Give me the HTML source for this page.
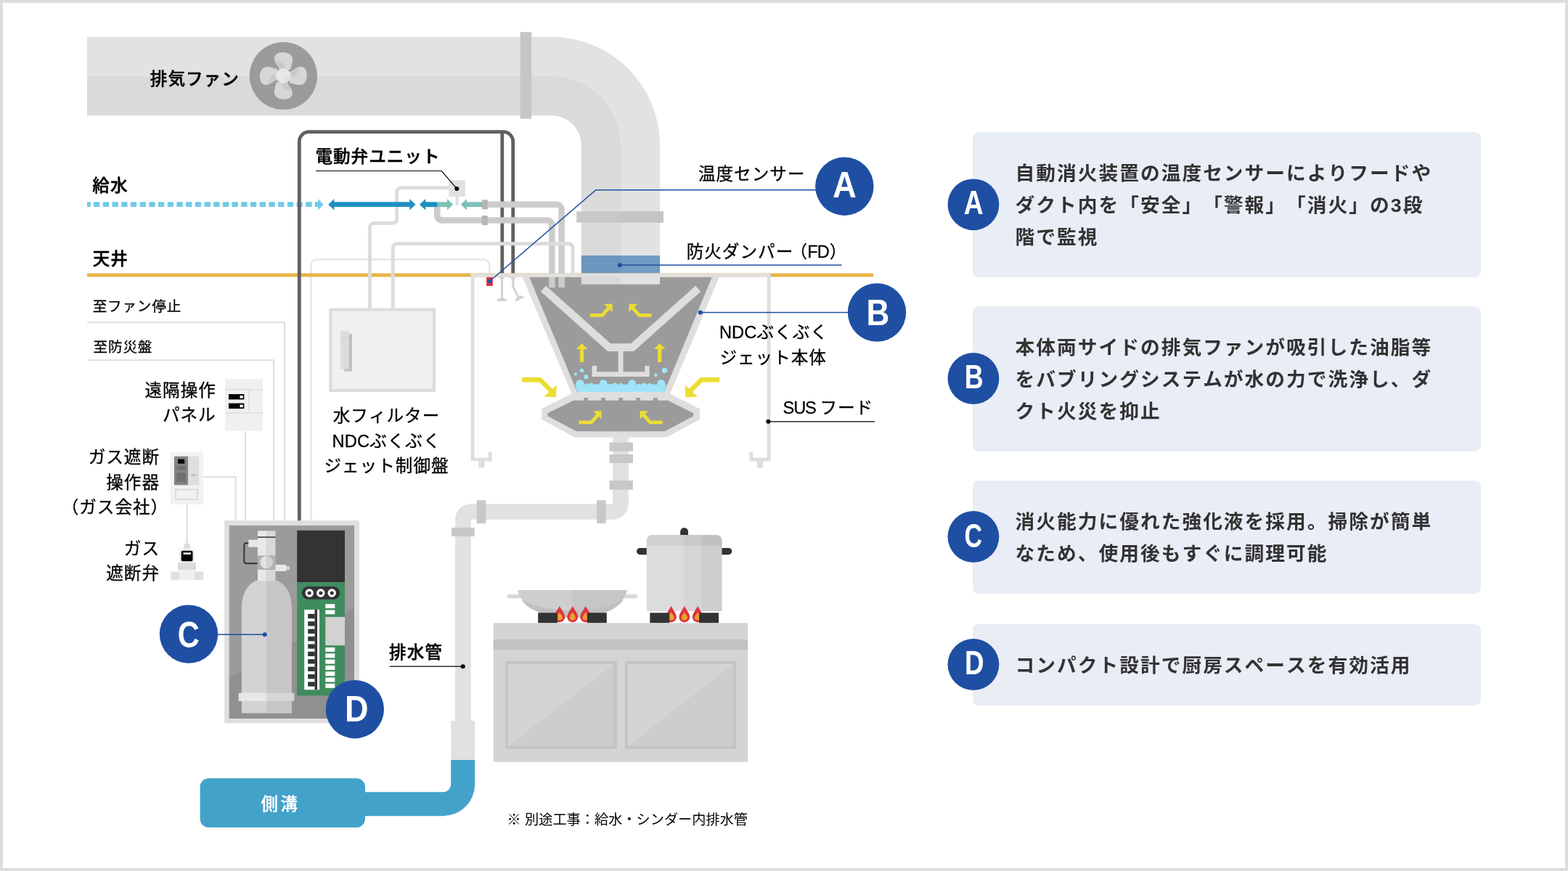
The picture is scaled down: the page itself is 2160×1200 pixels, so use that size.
<!DOCTYPE html>
<html lang="ja">
<head>
<meta charset="utf-8">
<title>NDCぶくぶくジェット システム構成図</title>
<style>
html,body{margin:0;padding:0;background:#fff;}
body{width:2160px;height:1200px;overflow:hidden;position:relative;}
svg{position:absolute;left:0;top:0;display:block;will-change:transform;}
svg text{font-family:"Liberation Sans","Noto Sans CJK JP",sans-serif;text-spacing-trim:space-all;font-kerning:none;}
.lb{font-size:23.6px;fill:#000;stroke:#000;stroke-width:0.3px;letter-spacing:1px;}
.lm{font-size:23.6px;fill:#000;font-weight:500;stroke:#000;stroke-width:0.45px;letter-spacing:1px;}
.ls{font-size:19.6px;fill:#000;stroke:#000;stroke-width:0.25px;letter-spacing:0.8px;}
.ct{font-size:26.7px;font-weight:700;fill:#333;letter-spacing:2.05px;}
.cl{font-weight:700;fill:#fff;text-anchor:middle;}
</style>
</head>
<body>
<svg width="2160" height="1200" viewBox="0 0 2160 1200">
<rect x="0" y="0" width="2160" height="1200" fill="#dddddd"/>
<rect x="4" y="4" width="2152" height="1192" fill="#ffffff"/>

<!-- ===== DUCT ===== -->
<g id="duct">
<path d="M120,50.8 H760 A149,149 0 0 1 909,200 V391.7 H855 V200 A95,95 0 0 0 760,105 H120 Z" fill="#e2e2e2"/>
<path d="M120,105 H760 A95,95 0 0 1 855,200 V391.7 H800.8 V200 A40.8,40.8 0 0 0 760,159.2 H120 Z" fill="#dadada"/>
<rect x="716.7" y="44.2" width="15.5" height="119.5" fill="#c6c6c6"/>
<rect x="794.2" y="291.3" width="119.6" height="15.4" fill="#c8c8c8"/>
<rect x="855" y="291.3" width="58.8" height="15.4" fill="#c5c5c5"/>
<rect x="800.8" y="352" width="54.2" height="24.5" fill="#6b96be"/>
<rect x="855" y="352" width="54" height="24.5" fill="#709bc3"/>
</g>

<!-- ===== FAN ===== -->
<g id="fan" transform="translate(390.4,104.5)">
<circle r="46.6" fill="#9b9b9b"/>
<g id="blade">
<path d="M-5.5,-8.7 C-6,-13 -12.4,-17 -12.4,-24.3 C-12.4,-29.5 -7,-32.5 -0.9,-32.5 C7,-32.5 12.6,-28.5 12.6,-22.5 C12.6,-17 10.6,-13 9.4,-8.4 Z" fill="#d6d6d6"/>
<path d="M-5.5,-8.7 C-6,-13 -9,-16 -11,-20 C-5,-21.5 2,-17 3,-9.5 Z" fill="#c9c9c9"/>
</g>
<g transform="rotate(90)"><path d="M-5.5,-8.7 C-6,-13 -12.4,-17 -12.4,-24.3 C-12.4,-29.5 -7,-32.5 -0.9,-32.5 C7,-32.5 12.6,-28.5 12.6,-22.5 C12.6,-17 10.6,-13 9.4,-8.4 Z" fill="#d6d6d6"/><path d="M-5.5,-8.7 C-6,-13 -9,-16 -11,-20 C-5,-21.5 2,-17 3,-9.5 Z" fill="#c9c9c9"/></g>
<g transform="rotate(180)"><path d="M-5.5,-8.7 C-6,-13 -12.4,-17 -12.4,-24.3 C-12.4,-29.5 -7,-32.5 -0.9,-32.5 C7,-32.5 12.6,-28.5 12.6,-22.5 C12.6,-17 10.6,-13 9.4,-8.4 Z" fill="#d6d6d6"/><path d="M-5.5,-8.7 C-6,-13 -9,-16 -11,-20 C-5,-21.5 2,-17 3,-9.5 Z" fill="#c9c9c9"/></g>
<g transform="rotate(270)"><path d="M-5.5,-8.7 C-6,-13 -12.4,-17 -12.4,-24.3 C-12.4,-29.5 -7,-32.5 -0.9,-32.5 C7,-32.5 12.6,-28.5 12.6,-22.5 C12.6,-17 10.6,-13 9.4,-8.4 Z" fill="#d6d6d6"/><path d="M-5.5,-8.7 C-6,-13 -9,-16 -11,-20 C-5,-21.5 2,-17 3,-9.5 Z" fill="#c9c9c9"/></g>
<circle r="10.4" fill="#e7e7e7"/>
<path d="M0,0 H10.4 A10.4,10.4 0 0 1 0,10.4 Z" fill="#e0e0e0"/>
</g>

<!-- ===== CEILING / SUPPLY ===== -->
<g id="ceiling">
<path d="M428.3,718 V365.5 a8,8 0 0 1 8,-8 H666.2 a8,8 0 0 1 8,8 V378" fill="none" stroke="#e6e6e6" stroke-width="2.6"/>
<rect x="120" y="376.5" width="1083" height="5" fill="#e8b349"/>
<line x1="120" y1="281.7" x2="438.5" y2="281.7" stroke="#6ecbe8" stroke-width="6.8" stroke-dasharray="8.3 4.4" stroke-dashoffset="3.6"/>
<path d="M438.1,274 L445.6,281.7 L438.1,289.4 Z" fill="#6ecbe8"/>
<path d="M412.3,718 V195 a13.3,13.3 0 0 1 13.3,-13.3 H693.4 a13.3,13.3 0 0 1 13.3,13.3 V376.5" fill="none" stroke="#606060" stroke-width="4.8"/>
<line x1="691.8" y1="182" x2="691.8" y2="376.5" stroke="#606060" stroke-width="4.8"/>
</g>

<!-- ===== HOOD BODY ===== -->
<g id="hood">
<rect x="648.7" y="378" width="4.8" height="257" fill="#dedede"/>
<rect x="648.7" y="630.6" width="28.8" height="4.7" fill="#dedede"/>
<rect x="672.8" y="622.4" width="4.7" height="12.9" fill="#dedede"/>
<rect x="659.2" y="635" width="8.3" height="9.3" fill="#dedede"/>
<rect x="1056.7" y="378" width="4.8" height="257" fill="#dedede"/>
<rect x="1032.5" y="630.6" width="29" height="4.7" fill="#dedede"/>
<rect x="1032.5" y="622.4" width="4.8" height="12.9" fill="#dedede"/>
<rect x="1042.8" y="635" width="8.4" height="9.5" fill="#dedede"/>
<path d="M719.7,381.7 L787.5,542.5 L746.3,563.3 V578 L791.7,602.5 H918.3 L963.8,578 V563.3 L923,542.5 L990.8,381.7 Z" fill="#dedede"/>
<path d="M729.2,381.7 H980.8 L915,540 H795 Z" fill="#9b9b9b"/>
<path d="M790,551.7 H920 L955.3,569.2 V573.3 L915.8,594.2 H794.2 L754.5,573.3 V569.2 Z" fill="#9b9b9b"/>
<g fill="#9b9b9b">
<rect x="804.2" y="548" width="5.8" height="4"/><rect x="828" y="548" width="5.8" height="4"/><rect x="852.2" y="548" width="5.8" height="4"/><rect x="876.2" y="548" width="5.8" height="4"/><rect x="900" y="548" width="5.8" height="4"/>
</g>
<rect x="800.8" y="381" width="54.2" height="10.7" fill="#dadada"/>
<rect x="855" y="381" width="54" height="10.7" fill="#e2e2e2"/>
</g>
<!-- ===== PIPES ===== -->
<g id="pipes" fill="none">
<path d="M602.3,281.7 V297 a6.5,6.5 0 0 0 6.5,6.5 H753.4 a7,7 0 0 1 7,7 V396.3" stroke="#cccccc" stroke-width="8.6"/>
<path d="M664,281.7 H766.6 a7,7 0 0 1 7,7 V396.3" stroke="#cccccc" stroke-width="8.6"/>
<rect x="663.8" y="275.2" width="8" height="13.2" fill="#b5b5b5"/>
<rect x="663.8" y="297" width="8" height="13.2" fill="#b5b5b5"/>
<path d="M619,258.7 H552.7 a6,6 0 0 0 -6,6 V301.5 a6,6 0 0 1 -6,6 H515.4 a6,6 0 0 0 -6,6 V426" stroke="#dcdcdc" stroke-width="5"/>
<path d="M541.2,426 V341.8 a6,6 0 0 1 6,-6 H783.2 a6,6 0 0 1 6,6 V378" stroke="#dcdcdc" stroke-width="5"/>
<rect x="648.7" y="376.7" width="412.8" height="5" fill="#e0e0e0"/>
<rect x="618.3" y="248.3" width="22.5" height="22.5" fill="#e0e0e0"/>
<rect x="627.5" y="270" width="4.2" height="13" fill="#e0e0e0"/>
</g>
<g id="arrows">
<line x1="459" y1="281.7" x2="566" y2="281.7" stroke="#1e8fc0" stroke-width="6.8"/>
<path d="M452.2,281.7 L460.4,274 V289.4 Z M572.5,281.7 L564.3,274 V289.4 Z" fill="#1e8fc0"/>
<line x1="585" y1="281.7" x2="602.3" y2="281.7" stroke="#1e8fc0" stroke-width="6.8"/>
<path d="M578,281.7 L586.2,274 V289.4 Z" fill="#1e8fc0"/>
<line x1="602.3" y1="281.7" x2="617" y2="281.7" stroke="#7dc0b6" stroke-width="6.8"/>
<path d="M624.2,281.7 L616,274 V289.4 Z" fill="#7dc0b6"/>
<line x1="642" y1="281.7" x2="664" y2="281.7" stroke="#7dc0b6" stroke-width="6.8"/>
<path d="M634.7,281.7 L642.9,274 V289.4 Z" fill="#7dc0b6"/>
</g>

<!-- ===== HOOD INTERIOR ===== -->
<g id="hoodin">
<polyline points="748.5,397.8 839.2,478.6 871,478.6 961.7,397.8" fill="none" stroke="#dedede" stroke-width="10.6" stroke-linejoin="miter"/>
<rect x="851.7" y="483" width="6.8" height="30" fill="#dedede"/>
<path d="M815.5,504 V518.9 H894.7 V504 H888.2 V512.3 H822 V504 Z" fill="#dedede"/>
<polyline points="812.6,434.45 829.6,434.45 840.2,422.4" fill="none" stroke="#ecdd33" stroke-width="4.7"/><polygon points="832.1,418.9 843.6,418.4 843.9,430" fill="#ecdd33"/>
<polyline points="897.6,434.45 880.6,434.45 870.0,422.4" fill="none" stroke="#ecdd33" stroke-width="4.7"/><polygon points="878.1,418.9 866.6,418.4 866.3,430" fill="#ecdd33"/>
<polyline points="797.5,581.95 814.5,581.95 825.1,569.9" fill="none" stroke="#ecdd33" stroke-width="4.7"/><polygon points="817.0,566.4 828.5,565.9 828.8,577.5" fill="#ecdd33"/>
<polyline points="912.7,581.95 895.7,581.95 885.1,569.9" fill="none" stroke="#ecdd33" stroke-width="4.7"/><polygon points="893.2,566.4 881.7,565.9 881.4,577.5" fill="#ecdd33"/>
<polyline points="719,523.3 744,523.3 760.5,539.8" fill="none" stroke="#ecdd33" stroke-width="6.4"/><polygon points="766.6,530.6 765.9,547.4 749.4,546.4" fill="#ecdd33"/>
<polyline points="991.2,523.3 966.2,523.3 949.7,539.8" fill="none" stroke="#ecdd33" stroke-width="6.4"/><polygon points="943.6,530.6 944.3,547.4 960.8,546.4" fill="#ecdd33"/>
<path d="M801.5,472.9 L809.4,481.1 H804.1 V498.9 H798.9 V481.1 H793.6 Z" fill="#ecdd33"/>
<path d="M908.7,472.9 L916.6,481.1 H911.3000000000001 V498.9 H906.1 V481.1 H900.8000000000001 Z" fill="#ecdd33"/>
<g fill="#9fe4f9">
<path d="M792.2,529.8 H918 L915,540 H795.2 Z"/>
<circle cx="799" cy="528.4" r="5.5"/>
<circle cx="831.1" cy="528.4" r="5.5"/>
<circle cx="870.8" cy="528.4" r="5.5"/>
<circle cx="910.8" cy="528.4" r="5.5"/>
<circle cx="808.5" cy="531.5" r="3"/>
<circle cx="814.5" cy="531" r="3.6"/>
<circle cx="822.5" cy="531.5" r="2.6"/>
<circle cx="840.5" cy="531.5" r="2.8"/>
<circle cx="847" cy="531" r="3.6"/>
<circle cx="855" cy="531.2" r="3.2"/>
<circle cx="861.5" cy="531.8" r="2.4"/>
<circle cx="880.5" cy="531.5" r="2.8"/>
<circle cx="887" cy="531" r="3.6"/>
<circle cx="895" cy="531.2" r="3.2"/>
<circle cx="902" cy="531.8" r="2.6"/>
<circle cx="801.4" cy="510.4" r="2.7"/>
<circle cx="792.9" cy="515.4" r="2.2"/>
<circle cx="807.3" cy="519.2" r="3.1"/>
<circle cx="915.5" cy="510.3" r="3.8"/>
<circle cx="903.3" cy="516.7" r="2.3"/>
</g>
<rect x="670.1" y="381.9" width="8.7" height="12.1" fill="#d93340"/>
<g fill="#d2d2d2">
<path d="M686.7,381.7 H695.8 C693.6,383 692.9,384.5 692.9,386.5 V410.2 C695.5,410.6 698,412.5 698.5,415 H684.4 C684.9,412.5 687.4,410.6 690,410.2 V386.5 C690,384.5 689,383 686.7,381.7 Z"/>
<path d="M701.3,381.7 H711.7 C709.3,383 708.3,384.5 708.3,386.5 V394.5 L714.8,407.8 C717.5,407 720.5,407.6 722.9,409.4 L710,415.8 C710,413 711,410.5 712.6,409.2 L705.2,395.2 V386.5 C705.2,384.5 703.7,383 701.3,381.7 Z"/>
</g>
</g>

<!-- ===== DRAIN ===== -->
<g id="drain">
<path d="M844.2,600 H865.8 V694.2 A21.6,21.6 0 0 1 844.2,715.8 H648.7 V993.5 H627 V715.8 A21.7,21.7 0 0 1 648.7,694.2 H844.2 Z" fill="#e1e1e1"/>
<g fill="#c8c8c8">
<rect x="839.5" y="609.6" width="32.5" height="12.1"/><rect x="839.5" y="626" width="32.5" height="12"/><rect x="839.5" y="662.1" width="32.5" height="12.6"/>
<rect x="822.2" y="689.2" width="12.3" height="32"/><rect x="656.7" y="689.2" width="12.5" height="32"/>
<rect x="622" y="727" width="31.8" height="11.8"/>
</g>
<rect x="621.2" y="993" width="33" height="54.5" fill="#e1e1e1"/>
<path d="M621.2,1047.1 H654.2 V1080.2 A44,44 0 0 1 610.2,1124.2 H500 V1091.2 H610.2 A11,11 0 0 0 621.2,1080.2 Z" fill="#43a2ca"/>
<rect x="275.6" y="1072.2" width="227.4" height="67.7" rx="12" ry="12" fill="#43a2ca"/>
</g>

<!-- ===== LEFT DEVICES ===== -->
<g id="left">
<g fill="none" stroke="#dddddd" stroke-width="2.1">
<path d="M120,444.2 H392.1 V718"/>
<path d="M121,496.3 H377 V718"/>
<path d="M338,593 V718"/>
<path d="M280,657.2 H324.6 V718"/>
<path d="M257.5,695 V749"/>
</g>
<rect x="455.3" y="426.5" width="142.7" height="111.5" fill="#f0f0f0" stroke="#dcdcdc" stroke-width="4"/>
<rect x="474.2" y="460" width="10.8" height="51.7" fill="#c0c0c0"/>
<rect x="469.2" y="456.2" width="11.6" height="52.1" fill="#dcdcdc"/>
<rect x="469.2" y="464.6" width="11.6" height="1.4" fill="#d0d0d0"/>
<rect x="310" y="522.2" width="52.1" height="71.5" fill="#f0f0f0"/>
<rect x="310" y="536" width="52.1" height="1.4" fill="#dcdcdc"/>
<rect x="310" y="568.1" width="52.1" height="1.4" fill="#dcdcdc"/>
<rect x="342.1" y="537" width="1.4" height="31.5" fill="#dcdcdc"/>
<rect x="315" y="543" width="21.3" height="7.4" fill="#000"/>
<rect x="315" y="555.6" width="21.3" height="7.4" fill="#000"/>
<rect x="330.5" y="544.9" width="4.2" height="3.7" fill="#fff"/>
<rect x="330.5" y="557.5" width="4.2" height="3.7" fill="#fff"/>
<rect x="234.7" y="622.5" width="45.3" height="72.5" fill="#f2f2f2"/>
<rect x="240" y="628.7" width="19.2" height="39.6" fill="#848484"/>
<rect x="259.2" y="628.7" width="15" height="39.6" fill="#dedede"/>
<rect x="245" y="632.5" width="9.2" height="6.2" fill="#000"/>
<rect x="243.3" y="642.2" width="12.5" height="5" fill="#707070"/>
<rect x="243.3" y="651.2" width="12.5" height="13" fill="#707070"/>
<rect x="263.3" y="653" width="6.7" height="2.8" fill="#c2c2c2"/>
<rect x="242" y="674.5" width="30" height="13.5" fill="#f2f2f2" stroke="#dedede" stroke-width="2.4"/>
<path d="M253.3,756 V752.5 a4.3,4.3 0 0 1 8.6,0 V756 Z" fill="#dcdcdc"/>
<rect x="247" y="755.8" width="21" height="19.5" fill="#f0f0f0"/>
<rect x="249.7" y="758.7" width="15.8" height="14.6" rx="2" ry="2" fill="#000"/>
<rect x="252.5" y="761.3" width="10.5" height="2.5" fill="#fff"/>
<rect x="245" y="775.3" width="25" height="9.9" fill="#dcdcdc"/>
<rect x="235" y="787.5" width="45.3" height="11.7" fill="#e0e0e0"/>
<rect x="247" y="785" width="21" height="14.2" fill="#f0f0f0"/>
</g>

<!-- ===== CONTROL BOX ===== -->
<g id="box">
<rect x="309.2" y="717.2" width="185.8" height="279.1" fill="#dedede"/>
<rect x="315.8" y="724" width="172.2" height="266" fill="#9b9b9b"/>
<path d="M315.8,934.2 L488,838 V990 H315.8 Z" fill="#909090"/>
<rect x="409.2" y="730.8" width="65.8" height="72" fill="#333333"/>
<rect x="409.2" y="802" width="65.8" height="156.3" fill="#3f8c5f"/>
<rect x="415.8" y="808" width="52.5" height="17.8" rx="8.9" ry="8.9" fill="#333333"/>
<g fill="none" stroke="#fff" stroke-width="3.2"><circle cx="426.2" cy="817" r="4.15"/><circle cx="441.8" cy="817" r="4.15"/><circle cx="457.2" cy="817" r="4.15"/></g>
<g fill="#fff">
<rect x="448.3" y="832.2" width="13" height="5.8"/><rect x="448.3" y="840.5" width="13" height="5.8"/>
<rect x="448.3" y="892" width="13" height="6"/><rect x="448.3" y="900.3" width="13" height="6"/><rect x="448.3" y="908.6" width="13" height="6"/><rect x="448.3" y="916.9" width="13" height="6"/><rect x="448.3" y="925.2" width="13" height="6"/><rect x="448.3" y="933.5" width="13" height="6"/><rect x="448.3" y="941.8" width="13" height="6"/>
<rect x="419.2" y="839.9" width="20.8" height="110.4"/>
</g>
<rect x="448.3" y="850" width="26.7" height="39.2" fill="#d2d2d2"/>
<rect x="433.5" y="839.9" width="3.5" height="110.4" fill="#333"/>
<g fill="#333">
<rect x="424.2" y="845.8" width="9.5" height="6.3"/><rect x="424.2" y="856.2" width="9.5" height="6.3"/><rect x="424.2" y="866.6" width="9.5" height="6.3"/><rect x="424.2" y="877" width="9.5" height="6.3"/><rect x="424.2" y="887.4" width="9.5" height="6.3"/><rect x="424.2" y="897.8" width="9.5" height="6.3"/><rect x="424.2" y="908.2" width="9.5" height="6.3"/><rect x="424.2" y="918.6" width="9.5" height="6.3"/><rect x="424.2" y="929" width="9.5" height="6.3"/><rect x="424.2" y="939.4" width="9.5" height="6.3"/>
</g>
<!-- cylinder -->
<path d="M332.8,982.5 V838 C332.8,818 340.5,805.5 352.5,800 H382 C394,805.5 401.7,818 401.7,838 V982.5 Z" fill="#d3d3d3"/>
<path d="M367.2,800 H382 C394,805.5 401.7,818 401.7,838 V982.5 H367.2 Z" fill="#c6c6c6"/>
<rect x="328.8" y="954.7" width="38.4" height="11.1" fill="#e8e8e8"/>
<rect x="367.2" y="954.7" width="38.1" height="11.1" fill="#d6d6d6"/>
<rect x="355" y="784.5" width="12.2" height="16" fill="#e8e8e8"/>
<rect x="367.2" y="784.5" width="12.3" height="16" fill="#d8d8d8"/>
<rect x="354.7" y="765" width="25" height="19.7" fill="#b0b0b0"/>
<rect x="355" y="731.3" width="12.2" height="34" fill="#e8e8e8"/>
<rect x="367.2" y="731.3" width="12.3" height="34" fill="#d8d8d8"/>
<rect x="355" y="739.3" width="24.5" height="1.5" fill="#333"/>
<rect x="342.2" y="743.7" width="13" height="10" fill="#e8e8e8"/>
<path d="M367.2,765.7 A8.8,8.8 0 0 0 367.2,783.3 Z" fill="#e2e2e2"/>
<path d="M367.2,765.7 A8.8,8.8 0 0 1 367.2,783.3 Z" fill="#d2d2d2"/>
<rect x="379.5" y="778" width="14.7" height="9" fill="#e8e8e8"/>
<rect x="394.2" y="780" width="4.5" height="5.3" fill="#d8d8d8"/>
<path d="M342.2,748.3 H339.3 a3,3 0 0 0 -3,3 V773.2 a3,3 0 0 0 3,3 H354.7" fill="none" stroke="#333" stroke-width="1.9"/>
</g>

<!-- ===== KITCHEN ===== -->
<g id="kitchen">
<rect x="698.3" y="818.7" width="180" height="5.6" rx="2.8" ry="2.8" fill="#d8d8d8"/>
<path d="M713,813 H863.8 C858,838 826,851 788.4,851 C750.8,851 719,838 713,813 Z" fill="#cecece"/>
<path d="M788.5,813 H863.8 C858,838 826,851 788.5,851 Z" fill="#c6c6c6"/>
<path d="M718,826 C735,836 760,841 788.4,841 C817,841 842,836 859,826 C848,842 822,851 788.4,851 C755,851 729,842 718,826 Z" fill="#c0c0c0"/>
<clipPath id="potclip"><path d="M890.8,842 V745 a8,8 0 0 1 8,-8 H986.5 a8,8 0 0 1 8,8 V842 Z"/></clipPath>
<path d="M937.2,738 V732.4 a5.4,5.4 0 0 1 10.8,0 V738 Z" fill="#333"/>
<rect x="877" y="755" width="20" height="9.2" rx="4.6" ry="4.6" fill="#333"/>
<rect x="988" y="755" width="20.3" height="9.2" rx="4.6" ry="4.6" fill="#333"/>
<g clip-path="url(#potclip)">
<rect x="890" y="736" width="53" height="107" fill="#dcdcdc"/>
<rect x="942.5" y="736" width="24.5" height="107" fill="#d5d5d5"/>
<rect x="966.7" y="736" width="29" height="107" fill="#cecece"/>
<rect x="890" y="736" width="53" height="16" fill="#d0d0d0"/>
<rect x="942.5" y="736" width="24.5" height="16" fill="#c9c9c9"/>
<rect x="966.7" y="736" width="29" height="16" fill="#c1c1c1"/>
</g>
<path transform="translate(770.8,857.4)" d="M0,-22.7 C2.2,-17.5 7.4,-12.5 7.4,-7.4 A7.4,7.4 0 0 1 -7.4,-7.4 C-7.4,-12.5 -2.2,-17.5 0,-22.7 Z" fill="#dc3540"/><path transform="translate(770.8,857.4)" d="M0,-13.8 C1.2,-11.3 4.1,-9.3 4.1,-6.9 A4.1,4.1 0 0 1 -4.1,-6.9 C-4.1,-9.3 -1.2,-11.3 0,-13.8 Z" fill="#f29e2e"/><path transform="translate(788.7,857.4)" d="M0,-22.7 C2.2,-17.5 7.4,-12.5 7.4,-7.4 A7.4,7.4 0 0 1 -7.4,-7.4 C-7.4,-12.5 -2.2,-17.5 0,-22.7 Z" fill="#dc3540"/><path transform="translate(788.7,857.4)" d="M0,-13.8 C1.2,-11.3 4.1,-9.3 4.1,-6.9 A4.1,4.1 0 0 1 -4.1,-6.9 C-4.1,-9.3 -1.2,-11.3 0,-13.8 Z" fill="#f29e2e"/><path transform="translate(806.7,857.4)" d="M0,-22.7 C2.2,-17.5 7.4,-12.5 7.4,-7.4 A7.4,7.4 0 0 1 -7.4,-7.4 C-7.4,-12.5 -2.2,-17.5 0,-22.7 Z" fill="#dc3540"/><path transform="translate(806.7,857.4)" d="M0,-13.8 C1.2,-11.3 4.1,-9.3 4.1,-6.9 A4.1,4.1 0 0 1 -4.1,-6.9 C-4.1,-9.3 -1.2,-11.3 0,-13.8 Z" fill="#f29e2e"/><path transform="translate(924.5,857.4)" d="M0,-22.7 C2.2,-17.5 7.4,-12.5 7.4,-7.4 A7.4,7.4 0 0 1 -7.4,-7.4 C-7.4,-12.5 -2.2,-17.5 0,-22.7 Z" fill="#dc3540"/><path transform="translate(924.5,857.4)" d="M0,-13.8 C1.2,-11.3 4.1,-9.3 4.1,-6.9 A4.1,4.1 0 0 1 -4.1,-6.9 C-4.1,-9.3 -1.2,-11.3 0,-13.8 Z" fill="#f29e2e"/><path transform="translate(942.8,857.4)" d="M0,-22.7 C2.2,-17.5 7.4,-12.5 7.4,-7.4 A7.4,7.4 0 0 1 -7.4,-7.4 C-7.4,-12.5 -2.2,-17.5 0,-22.7 Z" fill="#dc3540"/><path transform="translate(942.8,857.4)" d="M0,-13.8 C1.2,-11.3 4.1,-9.3 4.1,-6.9 A4.1,4.1 0 0 1 -4.1,-6.9 C-4.1,-9.3 -1.2,-11.3 0,-13.8 Z" fill="#f29e2e"/><path transform="translate(961.2,857.4)" d="M0,-22.7 C2.2,-17.5 7.4,-12.5 7.4,-7.4 A7.4,7.4 0 0 1 -7.4,-7.4 C-7.4,-12.5 -2.2,-17.5 0,-22.7 Z" fill="#dc3540"/><path transform="translate(961.2,857.4)" d="M0,-13.8 C1.2,-11.3 4.1,-9.3 4.1,-6.9 A4.1,4.1 0 0 1 -4.1,-6.9 C-4.1,-9.3 -1.2,-11.3 0,-13.8 Z" fill="#f29e2e"/>
<g fill="#333">
<path d="M741.2,858.5 V844.2 H765 a3,3 0 0 1 3,3 V858.5 Z"/>
<path d="M835.8,858.5 V844.2 H811.8 a3,3 0 0 0 -3,3 V858.5 Z"/>
<path d="M895.3,858.5 V844.2 H919.2 a3,3 0 0 1 3,3 V858.5 Z"/>
<path d="M990,858.5 V844.2 H966 a3,3 0 0 0 -3,3 V858.5 Z"/>
</g>
<rect x="679.7" y="858.3" width="350.4" height="191.4" fill="#d4d4d4"/>
<rect x="679.7" y="881" width="350.4" height="14.3" fill="#c2c2c2"/>
<rect x="698" y="913" width="149.8" height="116.7" fill="#d4d4d4"/>
<path d="M698,1029.7 L847.8,913 V1029.7 Z" fill="#cdcdcd"/>
<rect x="698" y="913" width="149.8" height="116.7" fill="none" stroke="#c4c4c4" stroke-width="4"/>
<rect x="862.9" y="913" width="149.1" height="116.7" fill="#d4d4d4"/>
<path d="M862.9,1029.7 L1012,913 V1029.7 Z" fill="#cdcdcd"/>
<rect x="862.9" y="913" width="149.1" height="116.7" fill="none" stroke="#c4c4c4" stroke-width="4"/>
</g>

<!-- ===== LEADERS / LABELS ===== -->
<g id="leaders" fill="none">
<polyline points="435,235.5 608.3,235.5 629.3,260" stroke="#000" stroke-width="1.2"/>
<circle cx="629.3" cy="260" r="3" fill="#000"/>
<polyline points="674.8,387.3 820.8,261.7 1130,261.7" stroke="#1f4fa3" stroke-width="1.5"/>
<circle cx="674.8" cy="387.3" r="2.9" fill="#1f4fa3"/>
<line x1="853.8" y1="365.3" x2="1159.5" y2="365.3" stroke="#1f4fa3" stroke-width="1.5"/>
<circle cx="853.8" cy="365.3" r="3" fill="#1f4fa3"/>
<line x1="964.7" y1="430.5" x2="1175" y2="430.5" stroke="#1f4fa3" stroke-width="1.5"/>
<circle cx="964.7" cy="430.5" r="3" fill="#1f4fa3"/>
<line x1="1058.3" y1="580.8" x2="1205" y2="580.8" stroke="#000" stroke-width="1.2"/>
<circle cx="1058.3" cy="580.8" r="3" fill="#000"/>
<line x1="536.7" y1="918.2" x2="637.7" y2="918.2" stroke="#000" stroke-width="1.2"/>
<circle cx="637.7" cy="918.2" r="3" fill="#000"/>
<line x1="295" y1="874.2" x2="364.7" y2="874.2" stroke="#1f4fa3" stroke-width="1.5"/>
<circle cx="364.7" cy="874.2" r="3" fill="#1f4fa3"/>
</g>
<g id="marks">
<circle cx="1163.3" cy="256.7" r="40.2" fill="#1f4fa3"/>
<text class="cl" transform="translate(1163.4,272) scale(0.92,1)" font-size="49.5">A</text>
<circle cx="1208" cy="430.5" r="40.2" fill="#1f4fa3"/>
<text class="cl" transform="translate(1209.5,448) scale(0.89,1)" font-size="49.5">B</text>
<circle cx="260" cy="873.6" r="40.2" fill="#1f4fa3"/>
<text class="cl" transform="translate(259.8,891.5) scale(0.84,1)" font-size="49.5">C</text>
<circle cx="488.8" cy="977.2" r="40.2" fill="#1f4fa3"/>
<text class="cl" transform="translate(491.3,993.5) scale(0.91,1)" font-size="49.5">D</text>
</g>
<g id="labels">
<text class="lm" x="206.8" y="116.5">排気ファン</text>
<text class="lm" x="127.3" y="264">給水</text>
<text class="lm" x="127.7" y="365">天井</text>
<text class="lm" x="434.4" y="224">電動弁ユニット</text>
<text class="lb" x="961.9" y="248">温度センサー</text>
<text class="lb" x="945.7" y="354.5">防火ダンパー<tspan dx="-4.8">（</tspan><tspan dx="-0.7" letter-spacing="-0.9">FD</tspan><tspan dx="0.7">）</tspan></text>
<text class="lb" x="990.9" y="465.8"><tspan letter-spacing="0.17">NDC</tspan>ぶくぶく</text>
<text class="lb" x="991.4" y="500.8">ジェット本体</text>
<text class="lb" x="1078.6" y="569.8"><tspan letter-spacing="-1.2">SUS</tspan><tspan dx="5.9">フード</tspan></text>
<text class="lb" x="532.5" y="581" text-anchor="middle">水フィルター</text>
<text class="lb" x="532.5" y="615.5" text-anchor="middle"><tspan letter-spacing="0.17">NDC</tspan>ぶくぶく</text>
<text class="lb" x="532.5" y="650" text-anchor="middle">ジェット制御盤</text>
<text class="ls" x="127.7" y="429">至ファン停止</text>
<text class="ls" x="128.6" y="485.3" letter-spacing="2.3">至防災盤</text>
<text class="lb" x="297.9" y="545.5" text-anchor="end">遠隔操作</text>
<text class="lb" x="297.7" y="579.8" text-anchor="end">パネル</text>
<text class="lb" x="220.0" y="638" text-anchor="end">ガス遮断</text>
<text class="lb" x="220.0" y="672.5" text-anchor="end">操作器</text>
<text class="lb" x="232.2" y="707" text-anchor="end">（ガス会社）</text>
<text class="lb" x="220.0" y="763.5" text-anchor="end">ガス</text>
<text class="lb" x="220.0" y="798" text-anchor="end">遮断弁</text>
<text class="lm" x="536.1" y="907.3">排水管</text>
<text x="359.4" y="1116" font-size="23.4" font-weight="500" fill="#fff" stroke="#fff" stroke-width="0.3" letter-spacing="3.8">側溝</text>
<text x="698.5" y="1136.3" font-size="19.2" fill="#000">※ 別途工事：給水・シンダー内排水管</text>
</g>

<!-- ===== CARDS ===== -->
<g id="cards">
<rect x="1340" y="182" width="700" height="200" rx="8" ry="8" fill="#e9edf6"/>
<rect x="1340" y="422" width="700" height="200" rx="8" ry="8" fill="#e9edf6"/>
<rect x="1340" y="662" width="700" height="156" rx="8" ry="8" fill="#e9edf6"/>
<rect x="1340" y="860" width="700" height="112" rx="8" ry="8" fill="#e9edf6"/>
<circle cx="1340.9" cy="281.8" r="35.4" fill="#1f4fa3"/>
<circle cx="1340.9" cy="521.5" r="35.4" fill="#1f4fa3"/>
<circle cx="1340.9" cy="739.5" r="35.4" fill="#1f4fa3"/>
<circle cx="1340.9" cy="915.5" r="35.4" fill="#1f4fa3"/>
<text class="cl" transform="translate(1341.3,295.2) scale(0.82,1)" font-size="45.4">A</text>
<text class="cl" transform="translate(1341.8,535.2) scale(0.79,1)" font-size="45.4">B</text>
<text class="cl" transform="translate(1340.8,753.6) scale(0.75,1)" font-size="45.4">C</text>
<text class="cl" transform="translate(1342.3,929.2) scale(0.81,1)" font-size="45.4">D</text>
<text class="ct" x="1398.5" y="248">自動消火装置の温度センサーによりフードや</text>
<text class="ct" x="1398.5" y="292">ダクト内を「安全」「警報」「消火」の3段</text>
<text class="ct" x="1398.5" y="336">階で監視</text>
<text class="ct" x="1398.5" y="488">本体両サイドの排気ファンが吸引した油脂等</text>
<text class="ct" x="1398.5" y="532">をバブリングシステムが水の力で洗浄し、ダ</text>
<text class="ct" x="1398.5" y="576">クト火災を抑止</text>
<text class="ct" x="1398.5" y="728">消火能力に優れた強化液を採用。掃除が簡単</text>
<text class="ct" x="1398.5" y="772">なため、使用後もすぐに調理可能</text>
<text class="ct" x="1398.5" y="926">コンパクト設計で厨房スペースを有効活用</text>
</g>

</svg>
</body>
</html>
